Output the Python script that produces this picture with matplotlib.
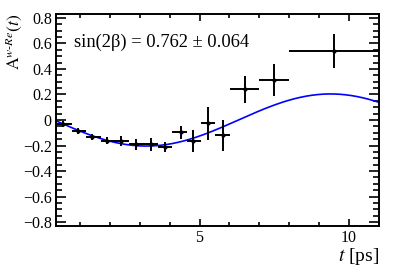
import numpy as np
import matplotlib
matplotlib.use("Agg")
import matplotlib.pyplot as plt
from matplotlib.ticker import MultipleLocator, FixedLocator, FuncFormatter

plt.rcParams['font.family'] = ['Liberation Serif', 'DejaVu Serif']
plt.rcParams['mathtext.fontset'] = 'stix'

# data
t_pts = [0.44, 0.93, 1.42, 1.90, 2.39, 2.88, 3.37, 3.83, 4.39, 4.79, 5.29, 5.77, 6.51, 7.50, 9.51]
bin_lo = [0.25, 0.73, 1.21, 1.69, 2.17, 2.65, 3.13, 3.61, 4.09, 4.57, 5.05, 5.53, 6.01, 7.00, 8.00]
bin_hi = [0.73, 1.21, 1.69, 2.17, 2.65, 3.13, 3.61, 4.09, 4.57, 5.05, 5.53, 6.01, 7.00, 8.00, 11.00]
asym = [-0.030, -0.086, -0.133, -0.162, -0.165, -0.190, -0.190, -0.210, -0.097, -0.165, -0.026, -0.120, 0.240, 0.314, 0.540]
asym_err = [0.026, 0.026, 0.024, 0.026, 0.040, 0.045, 0.050, 0.040, 0.050, 0.085, 0.130, 0.120, 0.108, 0.123, 0.133]

# fit curve parameters
fit_amp = 0.204
fit_dm = 0.51
fit_t0 = 3.22
result_text = "sin(2β) = 0.762 ± 0.064"

fig = plt.figure(figsize=(3.99, 2.70), dpi=100)
ax = fig.add_axes([56/399, 44/270, (379-56)/399, (226-14)/270])

tt = np.linspace(0.2, 11.0, 400)
ax.plot(tt, -fit_amp*np.cos(fit_dm*(tt - fit_t0)), color='#0000ff', lw=1.2, zorder=2)

t_arr = np.array(t_pts)
xerr = [t_arr - np.array(bin_lo), np.array(bin_hi) - t_arr]
ax.errorbar(t_arr, asym, xerr=xerr, yerr=asym_err, fmt='o', ms=2.0, color='black',
            ecolor='black', elinewidth=1.4, capsize=0, zorder=3)

ax.set_xlim(0.2, 11.0)
ax.set_ylim(-0.83, 0.83)

ax.xaxis.set_major_locator(FixedLocator([5, 10]))
ax.xaxis.set_minor_locator(MultipleLocator(1))
ax.yaxis.set_major_locator(MultipleLocator(0.2))
ax.yaxis.set_minor_locator(MultipleLocator(0.05))

def yfmt(v, pos):
    if abs(v) < 1e-9:
        return "0"
    s = ("%.1f" % v)
    return s.replace('-', '\u2212')
ax.yaxis.set_major_formatter(FuncFormatter(yfmt))

ax.tick_params(which='both', direction='in', top=True, right=True, labelsize=11.5, width=1.2, colors='black')
ax.tick_params(axis='y', which='major', length=7, pad=3)
ax.tick_params(axis='y', which='minor', length=4)
ax.tick_params(axis='x', which='major', length=5, pad=3)
ax.tick_params(axis='x', which='minor', length=3)
for s in ax.spines.values():
    s.set_linewidth(1.4)

ax.set_xlabel(r'$t$ [ps]', fontsize=14, loc='right', labelpad=0)
ax.set_ylabel(r'$\mathrm{A}^{w\mathrm{\text{-}}Re}(t)$', fontsize=12.5, loc='top')
ax.yaxis.set_label_coords(-0.10, 1.0)

ax.text(0.8, 0.605, result_text, fontsize=13.3, ha='left', va='center')

fig.savefig('out.png', dpi=100)
